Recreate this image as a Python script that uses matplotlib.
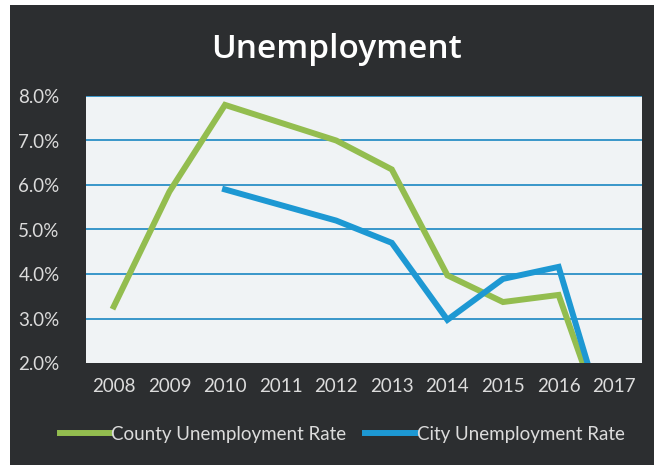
import matplotlib.pyplot as plt
import matplotlib.patches as patches
import numpy as np

years = ['2008', '2009', '2010', '2011', '2012', '2013', '2014', '2015', '2016', '2017']
county_rate = [3.27, 5.85, 7.8, 7.4, 7.0, 6.35, 3.97, 3.37, 3.53, 0.0]
city_rate = [np.nan, np.nan, 5.9, 5.55, 5.2, 4.7, 2.97, 3.89, 4.16, 0.0]
y_ticks = [2, 3, 4, 5, 6, 7, 8]

bg_dark = '#2c2e30'
county_green = '#93bd4f'
city_blue = '#1d98d3'
grid_blue = '#2a8fc6'
label_grey = '#dcdcdc'

plt.rcParams['font.family'] = ['Lato', 'DejaVu Sans']

fig = plt.figure(figsize=(6.54, 4.65), dpi=100)
fig.patch.set_facecolor('white')
# dark slide panel behind everything (small white margin on the left and top)
fig.patches.append(patches.Rectangle((10 / 654, 0), 1 - 10 / 654, 1 - 5 / 465,
                                     transform=fig.transFigure, facecolor=bg_dark,
                                     edgecolor='none', zorder=-10))

ax = fig.add_axes([86 / 654, 1 - 363 / 465, (642 - 86) / 654, (363 - 96) / 465])
ax.set_facecolor('#f0f3f5')

x = np.arange(len(years))
ax.plot(x, county_rate, color=county_green, linewidth=4.3, label='County Unemployment Rate',
        solid_joinstyle='miter', zorder=3)
ax.plot(x, city_rate, color=city_blue, linewidth=4.3, label='City Unemployment Rate',
        solid_joinstyle='miter', zorder=4)

ax.set_xlim(-0.5, len(years) - 0.5)
ax.set_ylim(2, 8)
ax.set_yticks(y_ticks)
ax.set_yticklabels([f'{v:.1f}%' for v in y_ticks])
ax.set_xticks(x)
ax.set_xticklabels(years)

for v in y_ticks[1:]:
    ax.axhline(v, color=grid_blue, linewidth=1.3, zorder=1)

for spine in ax.spines.values():
    spine.set_visible(False)
ax.tick_params(length=0, colors=label_grey, labelsize=13.5)
ax.tick_params(axis='x', pad=11)
ax.tick_params(axis='y', pad=19)

fig.text(0.514, 1 - 49 / 465, 'Unemployment', color='white', fontsize=24,
         fontweight='semibold', family=['Open Sans', 'DejaVu Sans'], ha='center', va='center')

leg = fig.legend(loc='center', bbox_to_anchor=(0.523, 1 - 434 / 465), ncol=2, frameon=False,
                 fontsize=13.5, handlelength=2.7, handletextpad=0.05, columnspacing=1.0)
for t in leg.get_texts():
    t.set_color(label_grey)

fig.savefig('out.png', dpi=100, facecolor=fig.get_facecolor())
